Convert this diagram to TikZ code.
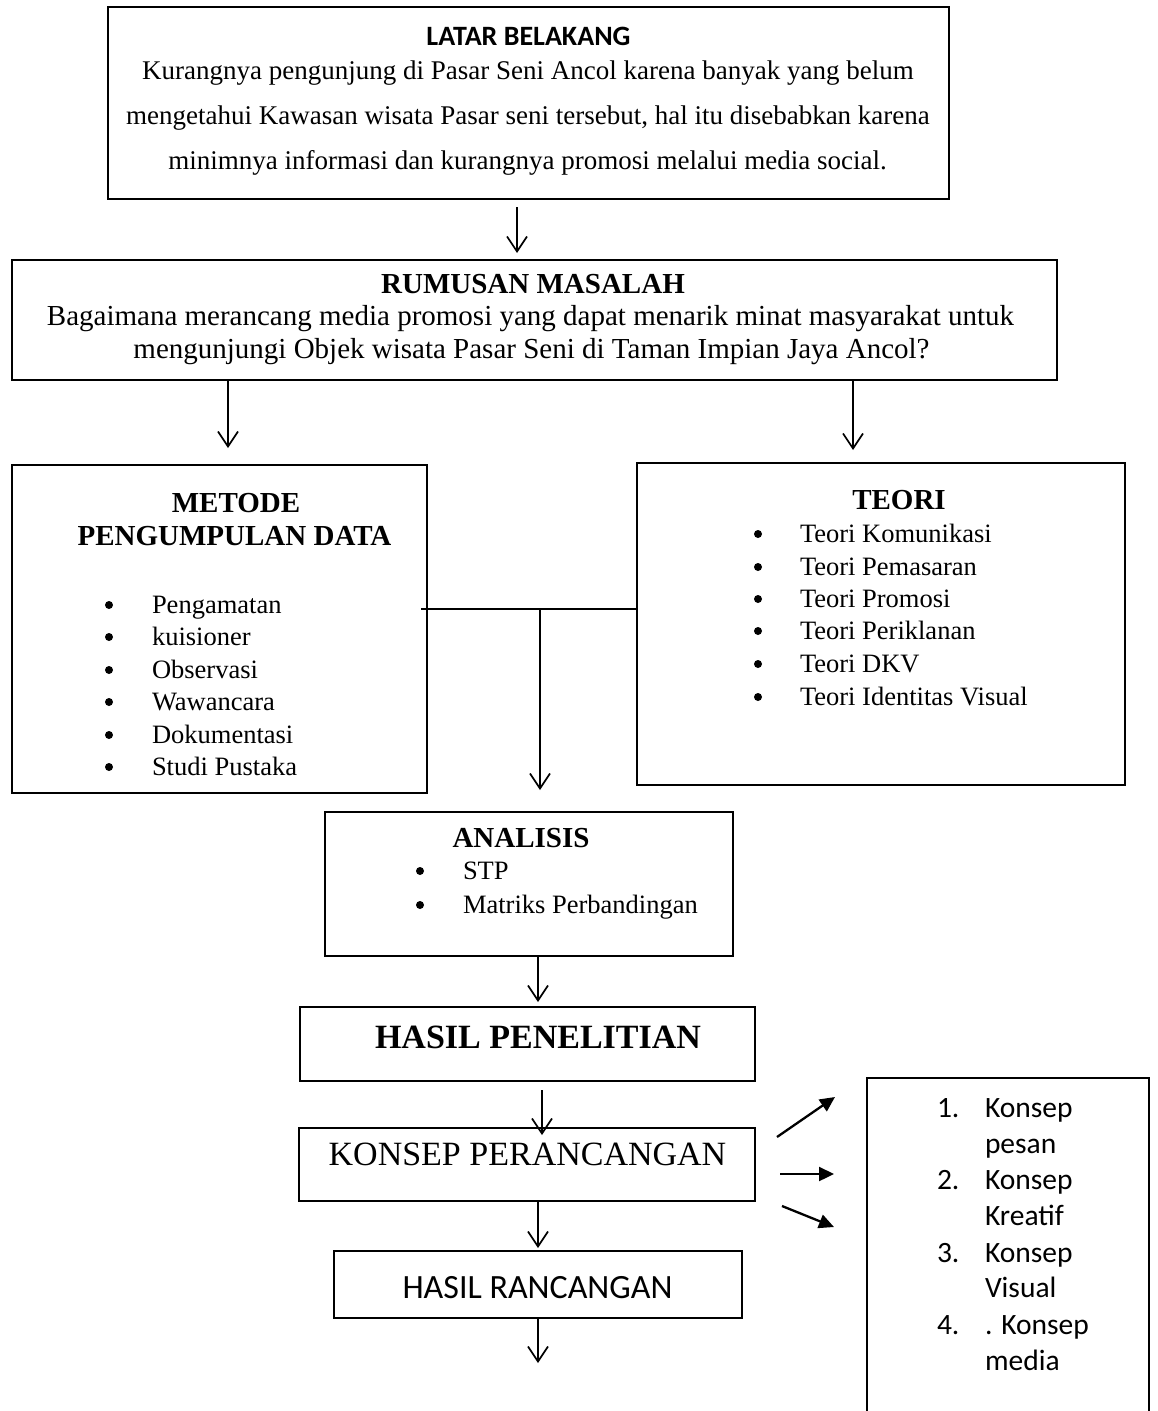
\documentclass[tikz,border=0pt]{standalone}
\usepackage{fontspec}
\setmainfont{Liberation Serif}
\newfontfamily\calfont{Carlito}
\usetikzlibrary{arrows.meta}

\tikzset{
  box/.style={draw, line width=2.3pt, inner sep=0pt, outer sep=0pt},
  txt/.style={inner sep=0pt, outer sep=0pt, anchor=base},
  ltxt/.style={inner sep=0pt, outer sep=0pt, anchor=base west},
  dot/.style={circle, fill=black, inner sep=0pt, minimum size=8pt},
  body/.style={font=\fontsize{27}{32}\selectfont},
  rbody/.style={font=\fontsize{29}{34}\selectfont},
  head/.style={font=\bfseries\fontsize{29}{34}\selectfont},
  item/.style={font=\fontsize{26.5}{31}\selectfont},
  klist/.style={font=\calfont\fontsize{29.5}{35}\selectfont},
  arr/.style={line width=1.7pt, -{Straight Barb[length=15pt,width=20pt,line width=1.7pt]}},
  farr/.style={line width=2.3pt, -{Triangle[length=15pt,width=14pt]}},
}

\begin{document}
\begin{tikzpicture}[x=1pt,y=-1pt]
\useasboundingbox (0,0) rectangle (1157,1411);
\clip (0,0) rectangle (1157,1411);

% ---------- boxes ----------
\node[box, minimum width=841pt, minimum height=192pt] (lb) at (528.5,103) {};
\node[box, minimum width=1045pt, minimum height=120pt] (rm) at (534.5,320) {};
\node[box, minimum width=415pt, minimum height=328pt] (mt) at (219.5,629) {};
\node[box, minimum width=488pt, minimum height=322pt] (te) at (881,624) {};
\node[box, minimum width=408pt, minimum height=144pt] (an) at (529,884) {};
\node[box, minimum width=455pt, minimum height=74pt] (hp) at (527.5,1044) {};
\node[box, minimum width=456pt, minimum height=73pt] (kp) at (527,1164.5) {};
\node[box, minimum width=408pt, minimum height=67pt] (hr) at (538,1284.5) {};
\node[box, minimum width=282pt, minimum height=352pt] (rb) at (1008,1254) {};

% ---------- latar belakang ----------
\node[txt, font=\calfont\bfseries\fontsize{28}{34}\selectfont] (lbt) at (528.5,45) {LATAR BELAKANG};
\node[txt, body] (lb1) at (528,79) {Kurangnya pengunjung di Pasar Seni Ancol karena banyak yang belum};
\node[txt, body] (lb2) at (528,124) {mengetahui Kawasan wisata Pasar seni tersebut, hal itu disebabkan karena};
\node[txt, body] (lb3) at (527.5,169) {minimnya informasi dan kurangnya promosi melalui media social.};

% ---------- rumusan masalah ----------
\node[txt, head] (rmt) at (533,293) {RUMUSAN MASALAH};
\node[txt, rbody] (rm1) at (530.5,325) {Bagaimana merancang media promosi yang dapat menarik minat masyarakat untuk};
\node[txt, rbody] (rm2) at (531.5,358) {mengunjungi Objek wisata Pasar Seni di Taman Impian Jaya Ancol?};

% ---------- metode ----------
\node[txt, head] (mtt1) at (236,512) {METODE};
\node[txt, head] (mtt2) at (234.5,545) {PENGUMPULAN DATA};
\foreach \y/\t [count=\i] in {613/Pengamatan, 645/kuisioner, 678/Observasi, 710/Wawancara, 743/Dokumentasi, 775/Studi Pustaka}{
  \node[dot] (mb\i) at (109,\y-8) {};
  \node[ltxt, item] (mi\i) at (152,\y) {\t};
}

% ---------- teori ----------
\node[txt, head] (tet) at (899,509) {TEORI};
\foreach \y/\t [count=\i] in {542/Teori Komunikasi, 575/Teori Pemasaran, 607/Teori Promosi, 639/Teori Periklanan, 672/Teori DKV, 705/Teori Identitas Visual}{
  \node[dot] (tb\i) at (758,\y-8) {};
  \node[ltxt, item] (ti\i) at (800,\y) {\t};
}

% ---------- analisis ----------
\node[txt, head] (ant) at (521,847) {ANALISIS};
\node[dot] (ab1) at (420,871) {};
\node[ltxt, item] (ai1) at (463,879) {STP};
\node[dot] (ab2) at (420,905) {};
\node[ltxt, item] (ai2) at (463,913) {Matriks Perbandingan};

% ---------- lower boxes ----------
\node[txt, font=\bfseries\fontsize{34}{40}\selectfont] (hpt) at (538,1048) {HASIL PENELITIAN};
\node[txt, font=\fontsize{34}{40}\selectfont] (kpt) at (527.5,1165) {KONSEP PERANCANGAN};
\node[txt, font=\calfont\fontsize{34}{40}\selectfont] (hrt) at (537.5,1298) {HASIL RANCANGAN};

% ---------- right list ----------
\node[ltxt, klist] (n1) at (937,1117) {1.};
\node[ltxt, klist] (k1) at (985,1117) {Konsep};
\node[ltxt, klist] (k1b) at (985,1153) {pesan};
\node[ltxt, klist] (n2) at (937,1189) {2.};
\node[ltxt, klist] (k2) at (985,1189) {Konsep};
\node[ltxt, klist] (k2b) at (985,1225) {Kreatif};
\node[ltxt, klist] (n3) at (937,1262) {3.};
\node[ltxt, klist] (k3) at (985,1262) {Konsep};
\node[ltxt, klist] (k3b) at (985,1297) {Visual};
\node[ltxt, klist] (n4) at (937,1334) {4.};
\node[ltxt, klist] (k4) at (985,1334) {. Konsep};
\node[ltxt, klist] (k4b) at (985,1370) {media};

% ---------- connectors ----------
\draw[arr] ([xshift=-11.5pt,yshift=-8pt]lb.south) -- ([xshift=-17.5pt,yshift=7pt]rm.north);
\draw[arr] ([xshift=-306.5pt]rm.south) -- ([xshift=8.5pt,yshift=17pt]mt.north);
\draw[arr] ([xshift=318.5pt]rm.south) -- ([xshift=-28pt,yshift=13pt]te.north);

\coordinate (jn) at (540,609);
\draw[line width=1.7pt] ([xshift=-6pt,yshift=20pt]mt.east) -- (jn) -- ([yshift=15pt]te.west);
\draw[arr] (jn) -- ([xshift=11pt,yshift=22pt]an.north);

\draw[arr] ([xshift=9pt]an.south) -- ([xshift=10.5pt,yshift=5pt]hp.north);
\draw[arr] ([xshift=14.5pt,yshift=-9pt]hp.south) -- ([xshift=15pt,yshift=-7pt]kp.north);
\draw[arr] ([xshift=11pt]kp.south) -- ([yshift=3pt]hr.north);
\coordinate (out) at (538,1363);
\draw[arr] (hr.south) -- (out);

\draw[farr] ([xshift=22pt,yshift=27.5pt]kp.east) -- ([xshift=-32pt,yshift=-19pt]rb.north west);
\draw[farr] ([xshift=25pt,yshift=-9.5pt]kp.east) -- ([xshift=-33pt,yshift=-96pt]rb.north west);
\draw[farr] ([xshift=27pt,yshift=-41.5pt]kp.east) -- ([xshift=-33pt,yshift=-149pt]rb.north west);
\end{tikzpicture}
\end{document}
